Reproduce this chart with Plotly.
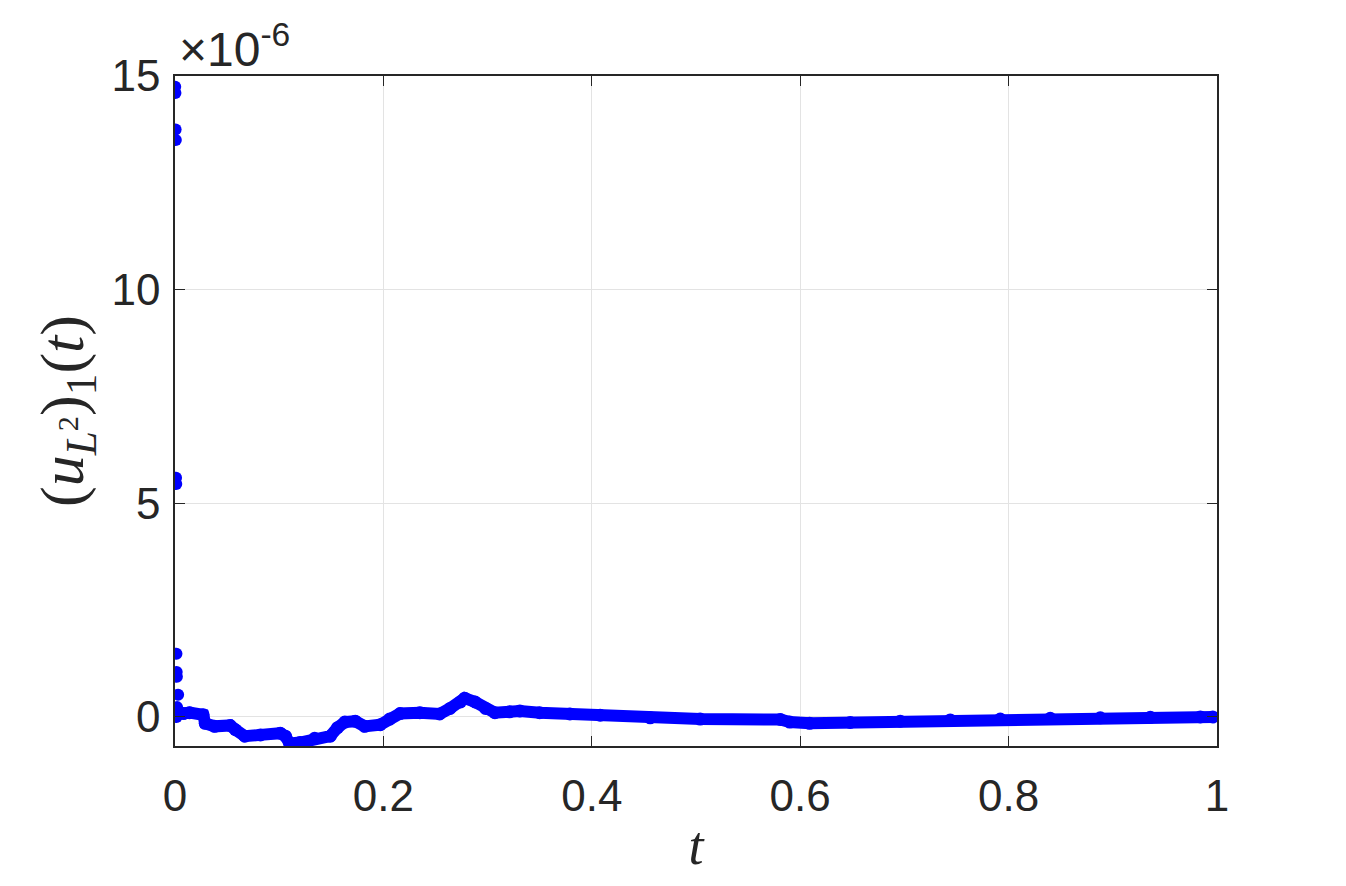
import plotly.graph_objects as go

# spike points near t = 0 (values in units of 1e-6)
spike_t = [0.0002, 0.0004, 0.0006, 0.0008, 0.0010, 0.0012, 0.0014, 0.0016, 0.0018, 0.0030, 0.0020, 0.0015]
spike_y = [14.75, 14.6, 13.75, 13.5, 5.6, 5.45, 1.48, 1.05, 0.94, 0.52, 0.23, 0.0]

# main curve (values in units of 1e-6)
curve_t = [0.008, 0.014, 0.027, 0.029, 0.038, 0.053, 0.058, 0.067, 0.082, 0.101,
           0.106, 0.110, 0.120, 0.134, 0.149, 0.156, 0.163, 0.173, 0.182, 0.197,
           0.206, 0.216, 0.235, 0.254, 0.264, 0.274, 0.278, 0.288, 0.298, 0.307,
           0.321, 0.331, 0.350, 0.379, 0.408, 0.456, 0.504, 0.581, 0.590, 0.609,
           0.648, 0.696, 0.744, 0.792, 0.840, 0.888, 0.936, 0.984, 0.996]
curve_y = [0.08, 0.10, 0.05, -0.15, -0.22, -0.20, -0.30, -0.45, -0.42, -0.38,
           -0.45, -0.62, -0.60, -0.50, -0.45, -0.25, -0.12, -0.10, -0.22, -0.18,
           -0.05, 0.08, 0.10, 0.07, 0.20, 0.35, 0.44, 0.35, 0.20, 0.10,
           0.12, 0.14, 0.10, 0.07, 0.04, -0.02, -0.05, -0.06, -0.12, -0.15,
           -0.13, -0.10, -0.07, -0.05, -0.03, -0.02, -0.01, 0.0, 0.0]

x_ticks = [0, 0.2, 0.4, 0.6, 0.8, 1]
x_labels = ["0", "0.2", "0.4", "0.6", "0.8", "1"]
y_ticks = [0, 5, 10, 15]
y_labels = ["0", "5", "10", "15"]

blue = "#0000ff"
axis_col = "#262626"
tick_font = dict(family="Liberation Sans, Arial, sans-serif", size=44, color=axis_col)
serif = "Liberation Serif, DejaVu Serif, serif"

fig = go.Figure()
fig.add_trace(go.Scatter(x=curve_t, y=curve_y, mode="lines+markers",
                         line=dict(color=blue, width=12),
                         marker=dict(color=blue, size=13), showlegend=False))
fig.add_trace(go.Scatter(x=spike_t, y=spike_y, mode="markers",
                         marker=dict(color=blue, size=12), showlegend=False))

fig.update_layout(
    width=1346, height=886,
    margin=dict(l=167, r=137, t=68, b=148),
    paper_bgcolor="white", plot_bgcolor="white",
    xaxis=dict(range=[0, 1], tickvals=x_ticks, ticktext=x_labels,
               showgrid=True, gridcolor="#e3e3e3", gridwidth=1,
               zeroline=False, showline=True, linecolor=axis_col, linewidth=1.5,
               mirror="ticks", ticks="inside", ticklen=10, tickcolor=axis_col,
               tickfont=tick_font, ticklabelstandoff=10,
               title=dict(text="<i>t</i>", standoff=8,
                          font=dict(family=serif, size=54, color=axis_col))),
    yaxis=dict(range=[-0.68, 15.0], tickvals=y_ticks, ticktext=y_labels,
               showgrid=True, gridcolor="#e3e3e3", gridwidth=1,
               zeroline=False, showline=True, linecolor=axis_col, linewidth=1.5,
               mirror="ticks", ticks="inside", ticklen=10, tickcolor=axis_col,
               tickfont=tick_font, ticklabelstandoff=4,
               title=dict(text="(<i>u</i><sub><i>L</i><sup>2</sup></sub>)<sub>1</sub>(<i>t</i>)", standoff=8,
                          font=dict(family=serif, size=62, color=axis_col))),
    annotations=[dict(x=0, y=1, xref="paper", yref="paper", xanchor="left", yanchor="bottom",
                      xshift=2, yshift=-2, showarrow=False,
                      text="×10<sup>-6</sup>",
                      font=dict(family="Liberation Sans, Arial, sans-serif", size=48, color=axis_col))],
)

fig.write_html("out.html")
